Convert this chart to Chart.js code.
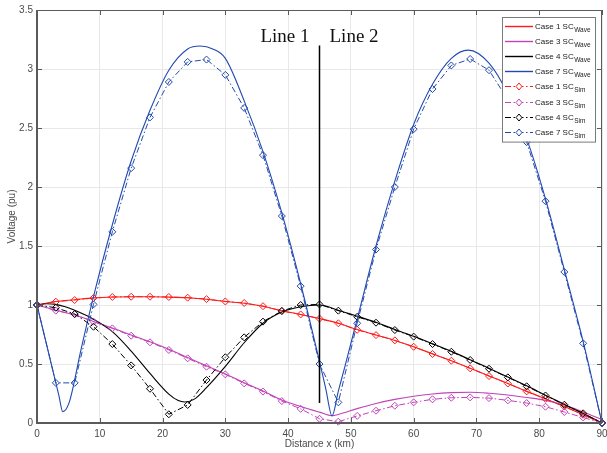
<!DOCTYPE html>
<html>
<head>
<meta charset="utf-8">
<script src="https://cdn.jsdelivr.net/npm/chart.js@4.4.1/dist/chart.umd.min.js"></script>
<style>
  html, body { margin: 0; padding: 0; background: #ffffff; }
  #wrap { width: 607px; height: 453px; }
</style>
</head>
<body>
<div id="wrap"><canvas id="c" width="607" height="453"></canvas></div>
<script>
// Voltage profile along the two-section line: travelling-wave model vs. simulation
const xTicks = [0, 10, 20, 30, 40, 50, 60, 70, 80, 90];
const yTicks = [0, 0.5, 1, 1.5, 2, 2.5, 3, 3.5];

// Simulation samples every 3 km
const simX = [0,3,6,9,12,15,18,21,24,27,30,33,36,39,42,45,48,51,54,57,60,63,66,69,72,75,78,81,84,87,90];
const case1Sim = [1.0,1.028,1.042,1.059,1.068,1.07,1.07,1.068,1.062,1.05,1.03,1.017,0.99,0.95,0.92,0.885,0.845,0.79,0.745,0.70,0.646,0.585,0.528,0.463,0.398,0.335,0.268,0.205,0.14,0.07,0.0];
const case3Sim = [1.0,0.952,0.921,0.859,0.802,0.74,0.684,0.619,0.548,0.477,0.412,0.336,0.266,0.186,0.12,0.036,0.011,0.06,0.104,0.146,0.175,0.201,0.214,0.217,0.211,0.192,0.169,0.138,0.093,0.047,0.0];
const case4Sim = [1.0,0.977,0.924,0.816,0.669,0.488,0.29,0.074,0.153,0.364,0.557,0.726,0.859,0.949,1.0,1.005,0.952,0.90,0.85,0.788,0.732,0.669,0.604,0.534,0.46,0.387,0.311,0.233,0.155,0.082,0.0];
const case7Sim = [1.0,0.34,0.34,1.005,1.62,2.16,2.59,2.89,3.06,3.08,2.95,2.67,2.27,1.754,1.16,0.5,0.175,0.845,1.47,2.0,2.49,2.83,3.03,3.085,2.99,2.74,2.38,1.88,1.28,0.675,0.0];

// Travelling-wave solution
const case1WaveX = simX;
const case1Wave = [1.0,1.03,1.045,1.06,1.068,1.07,1.07,1.067,1.061,1.049,1.03,1.015,0.99,0.952,0.92,0.885,0.845,0.792,0.746,0.70,0.646,0.586,0.528,0.464,0.399,0.335,0.268,0.205,0.14,0.07,0.0];
const case3WaveX = [0,3,6,9,12,15,18,21,24,27,30,33,36,39,42,45,47,48,51,54,57,60,63,66,69,72,75,78,81,84,87,90];
const case3Wave = [1.0,0.955,0.915,0.86,0.805,0.745,0.688,0.625,0.555,0.485,0.415,0.342,0.272,0.195,0.14,0.092,0.062,0.072,0.122,0.166,0.2,0.227,0.246,0.257,0.26,0.252,0.237,0.216,0.192,0.152,0.094,0.03];
const case4WaveX = [0,1.5,3,4.5,6,9,12,15,18,21,22.5,23.5,25,27,30,33,36,39,42,45,48,51,54,57,60,63,66,69,72,75,78,81,84,87,90];
const case4Wave = [1.0,1.01,1.005,0.985,0.955,0.88,0.775,0.61,0.42,0.245,0.19,0.178,0.2,0.3,0.48,0.68,0.845,0.94,0.985,1.0,0.955,0.905,0.853,0.792,0.735,0.672,0.607,0.537,0.463,0.39,0.315,0.236,0.158,0.08,0.0];
const case7WaveX = [0,2,3.5,4.1,5.1,7,9,12,15,18,21,24,26,28,30,33,36,39,42,45,46,47,48,49,51,54,57,60,63,66,68.7,72,75,78,81,84,87,90];
const case7Wave = [1.0,0.56,0.23,0.096,0.17,0.62,1.07,1.68,2.22,2.65,2.99,3.17,3.195,3.17,3.09,2.73,2.3,1.78,1.18,0.52,0.29,0.06,0.27,0.47,0.88,1.5,2.05,2.53,2.87,3.09,3.16,3.05,2.79,2.41,1.9,1.3,0.69,0.0];

// Junction between Line 1 and Line 2
const junctionX = [45, 45];
const junctionY = [0.17, 3.2];
const sectionLabels = ['Line 1', 'Line 2'];
const sectionLabelY = 3.23;

const caseNames = ['Case 1 SC', 'Case 3 SC', 'Case 4 SC', 'Case 7 SC'];
const caseColors = ['#ff1a1a', '#c043b8', '#000000', '#2149b0'];

const pts = (xs, ys) => xs.map((x, i) => ({ x: x, y: ys[i] }));
const dashDot = [6, 2.5, 1.5, 2.5];

const waveSeries = [[case1WaveX, case1Wave], [case3WaveX, case3Wave], [case4WaveX, case4Wave], [case7WaveX, case7Wave]];
const simSeries = [case1Sim, case3Sim, case4Sim, case7Sim];

const datasets = [];
waveSeries.forEach((s, i) => {
  datasets.push({
    label: caseNames[i], sub: 'Wave',
    data: pts(s[0], s[1]),
    borderColor: caseColors[i], borderWidth: 1.1,
    pointRadius: 0, cubicInterpolationMode: 'monotone',
    fill: false, clip: false
  });
});
simSeries.forEach((s, i) => {
  datasets.push({
    label: caseNames[i], sub: 'Sim',
    data: pts(simX, s),
    borderColor: caseColors[i], borderWidth: 1, borderDash: dashDot,
    pointStyle: 'rectRot', pointRadius: 3.5, pointBorderWidth: 1,
    pointBackgroundColor: 'rgba(255,255,255,0)', pointBorderColor: caseColors[i],
    tension: 0, fill: false, clip: false
  });
});
datasets.push({
  label: 'junction', sub: null, hideInLegend: true,
  data: pts(junctionX, junctionY),
  borderColor: '#000000', borderWidth: 1.5, pointRadius: 0, tension: 0, clip: false
});
datasets.forEach((d, i) => { d.order = -i; });

const fontFamily = '"Liberation Sans", Arial, sans-serif';

// Axes box with inward tick marks
const framePlugin = {
  id: 'frame',
  afterDatasetsDraw(chart) {
    const { ctx, chartArea: a, scales } = chart;
    ctx.save();
    ctx.strokeStyle = '#5a5a5a';
    ctx.lineWidth = 1;
    ctx.strokeRect(a.left + 0.5, a.top + 0.5, a.right - a.left - 1, a.bottom - a.top - 1);
    ctx.lineWidth = 2;
    ctx.beginPath();
    ctx.moveTo(a.left, a.top); ctx.lineTo(a.left, a.bottom); ctx.lineTo(a.right, a.bottom);
    ctx.stroke();
    ctx.lineWidth = 1;
    ctx.beginPath();
    xTicks.forEach(v => {
      const px = Math.round(scales.x.getPixelForValue(v)) + 0.5;
      ctx.moveTo(px, a.bottom); ctx.lineTo(px, a.bottom - 5);
      ctx.moveTo(px, a.top); ctx.lineTo(px, a.top + 5);
    });
    yTicks.forEach(v => {
      const py = Math.round(scales.y.getPixelForValue(v)) + 0.5;
      ctx.moveTo(a.left, py); ctx.lineTo(a.left + 5, py);
      ctx.moveTo(a.right, py); ctx.lineTo(a.right - 5, py);
    });
    ctx.stroke();

    // section labels either side of the junction
    const jx = scales.x.getPixelForValue(junctionX[0]);
    const ly = scales.y.getPixelForValue(sectionLabelY);
    ctx.fillStyle = '#111111';
    ctx.font = '19px "Liberation Serif", "Times New Roman", serif';
    ctx.textBaseline = 'alphabetic';
    ctx.textAlign = 'right';
    ctx.fillText(sectionLabels[0], jx - 10, ly);
    ctx.textAlign = 'left';
    ctx.fillText(sectionLabels[1], jx + 10, ly);
    ctx.restore();
  }
};

// Legend with subscripted entries
const legendPlugin = {
  id: 'subLegend',
  afterDraw(chart) {
    const { ctx, chartArea: a } = chart;
    const items = chart.data.datasets.filter(d => !d.hideInLegend);
    const boxW = 93, rowH = 15.2;
    const boxH = items.length * rowH + 3;
    const bx = a.right - 7 - boxW, by = a.top + 7;
    ctx.save();
    ctx.fillStyle = '#ffffff';
    ctx.fillRect(bx, by, boxW, boxH);
    ctx.strokeStyle = '#7a7a7a';
    ctx.lineWidth = 1;
    ctx.strokeRect(bx + 0.5, by + 0.5, boxW, boxH);
    items.forEach((d, i) => {
      const cy = Math.round(by + 8.5 + i * rowH) + 0.5;
      const x0 = bx + 3, x1 = bx + 31;
      ctx.strokeStyle = d.borderColor;
      ctx.lineWidth = d.sub === 'Wave' ? 1.4 : 1.2;
      ctx.setLineDash(d.borderDash || []);
      ctx.beginPath(); ctx.moveTo(x0, cy); ctx.lineTo(x1, cy); ctx.stroke();
      ctx.setLineDash([]);
      if (d.pointRadius) {
        const mx = (x0 + x1) / 2, r = d.pointRadius;
        ctx.lineWidth = 1;
        ctx.fillStyle = '#ffffff';
        ctx.beginPath();
        ctx.moveTo(mx, cy - r); ctx.lineTo(mx + r * 0.85, cy); ctx.lineTo(mx, cy + r); ctx.lineTo(mx - r * 0.85, cy); ctx.closePath();
        ctx.fill(); ctx.stroke();
      }
      ctx.fillStyle = '#1a1a1a';
      ctx.textAlign = 'left';
      ctx.textBaseline = 'alphabetic';
      ctx.font = '8px ' + fontFamily;
      const tx = x1 + 2;
      ctx.fillText(d.label, tx, cy + 2.5);
      const w = ctx.measureText(d.label).width;
      ctx.font = '6.5px ' + fontFamily;
      ctx.fillText(d.sub, tx + w + 0.5, cy + 5.5);
    });
    ctx.restore();
  }
};

Chart.defaults.font.family = fontFamily;

new Chart(document.getElementById('c'), {
  type: 'line',
  data: { datasets: datasets },
  options: {
    responsive: false,
    devicePixelRatio: 1,
    animation: false,
    layout: { padding: { left: 0, right: 3, top: 10, bottom: 0 } },
    plugins: { legend: { display: false }, tooltip: { enabled: false } },
    elements: { line: { borderCapStyle: 'butt' } },
    scales: {
      x: {
        type: 'linear', min: 0, max: 90,
        afterBuildTicks: s => { s.ticks = xTicks.map(v => ({ value: v })); },
        afterFit: s => { s.height = 30; s.paddingLeft = 0; s.paddingRight = 0; },
        grid: { color: '#e8e8e8', lineWidth: 1, drawTicks: false },
        border: { display: false },
        ticks: { color: '#4a4a4a', font: { size: 10 }, padding: 5, maxRotation: 0, autoSkip: false,
                 callback: v => String(v) },
        title: { display: true, text: 'Distance x (km)', color: '#4a4a4a', font: { size: 10 }, padding: { top: 0, bottom: 3 } }
      },
      y: {
        type: 'linear', min: 0, max: 3.5,
        afterBuildTicks: s => { s.ticks = yTicks.map(v => ({ value: v })); },
        afterFit: s => { s.width = 37; s.paddingTop = 0; s.paddingBottom = 0; },
        grid: { color: '#e8e8e8', lineWidth: 1, drawTicks: false },
        border: { display: false },
        ticks: { color: '#4a4a4a', font: { size: 10 }, padding: 4, autoSkip: false,
                 callback: v => String(v) },
        title: { display: true, text: 'Voltage (pu)', color: '#4a4a4a', font: { size: 10 }, padding: { top: 6, bottom: 0 } }
      }
    }
  },
  plugins: [framePlugin, legendPlugin]
});
</script>
</body>
</html>
